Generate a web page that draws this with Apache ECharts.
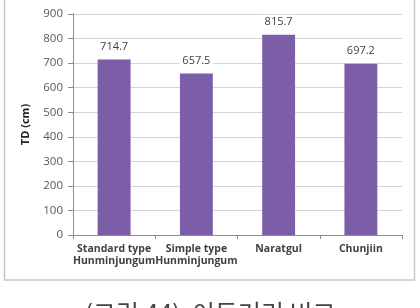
<!DOCTYPE html>
<html><head><meta charset="utf-8">
<script src="https://cdn.jsdelivr.net/npm/echarts@6/dist/echarts.min.js"></script>
<style>html,body{margin:0;padding:0;background:#fff}#c{width:420px;height:308px}</style>
</head><body><div id="c"></div>
<script>
const categories = ['Standard type\nHunminjungum', 'Simple type\nHunminjungum', 'Naratgul', 'Chunjiin'];
const tdValues = [714.7, 657.5, 815.7, 697.2];
const yTicks = [0, 100, 200, 300, 400, 500, 600, 700, 800, 900];
const yAxisTitle = 'TD (cm)';
const caption = '(그림 44)  이동거리 비교';

const chart = echarts.init(document.getElementById('c'), null, {renderer: 'canvas'});
chart.setOption({
  animation: false,
  backgroundColor: '#fff',
  grid: {left: 73, right: 18, top: 14, bottom: 73, containLabel: false},
  graphic: [
    {type: 'rect', shape: {x: 4.5, y: -1, width: 410, height: 281}, style: {fill: 'none', stroke: '#c8c8c8', lineWidth: 1.5}, z: -1},
    {type: 'text', left: 'center', top: 301, style: {text: caption, font: '25px "Noto Sans CJK KR"', fill: '#444'}}
  ],
  xAxis: {
    type: 'category', data: categories,
    axisLine: {lineStyle: {color: '#8c8c8c'}},
    axisTick: {show: true, length: 4, lineStyle: {color: '#8c8c8c'}},
    axisLabel: {interval: 0, color: '#404040', fontFamily: 'Open Sans', fontWeight: 'bold', fontSize: 10.5, lineHeight: 12, margin: 8}
  },
  yAxis: {
    type: 'value', min: yTicks[0], max: yTicks[yTicks.length - 1], interval: 100,
    name: yAxisTitle, nameLocation: 'middle', nameGap: 42, nameRotate: 90,
    nameTextStyle: {color: '#222', fontFamily: 'Open Sans', fontWeight: 'bold', fontSize: 11},
    axisLine: {show: true, lineStyle: {color: '#8c8c8c'}},
    axisTick: {show: true, length: 5, lineStyle: {color: '#8c8c8c'}},
    splitLine: {lineStyle: {color: '#d4d4d4'}},
    axisLabel: {color: '#595959', fontFamily: 'Open Sans', fontSize: 11.5, margin: 10}
  },
  series: [{
    type: 'bar', data: tdValues, barWidth: '40%',
    itemStyle: {color: '#7B5EA7'},
    label: {show: true, position: 'top', distance: 5, color: '#404040', fontFamily: 'Open Sans', fontSize: 11,
      backgroundColor: '#fff', padding: [2, 3], formatter: p => p.value.toFixed(1)}
  }]
});
</script></body></html>
